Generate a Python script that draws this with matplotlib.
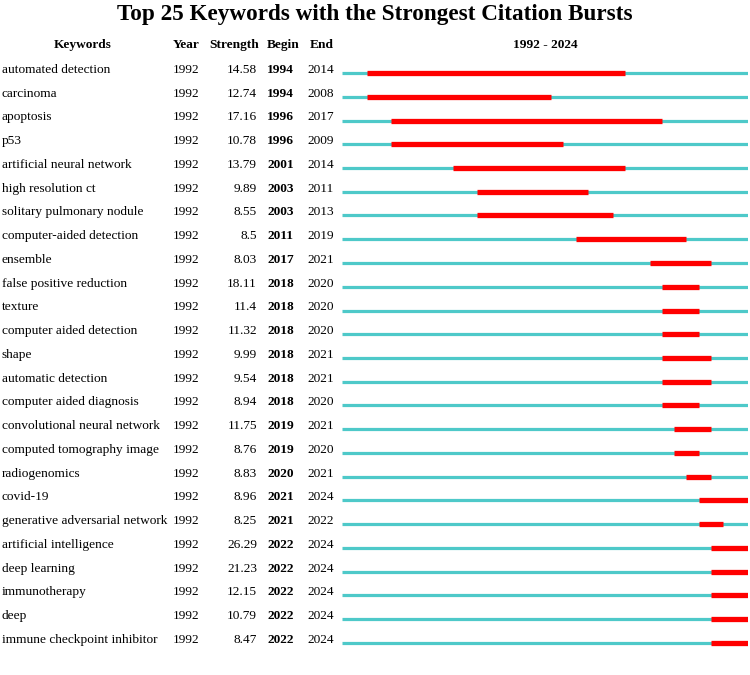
import matplotlib
matplotlib.use('Agg')
import matplotlib.pyplot as plt

plt.rcParams['font.family'] = ['Liberation Serif', 'DejaVu Serif']

# data
keywords = ['automated detection', 'carcinoma', 'apoptosis', 'p53',
            'artificial neural network', 'high resolution ct',
            'solitary pulmonary nodule', 'computer-aided detection', 'ensemble',
            'false positive reduction', 'texture', 'computer aided detection',
            'shape', 'automatic detection', 'computer aided diagnosis',
            'convolutional neural network', 'computed tomography image',
            'radiogenomics', 'covid-19', 'generative adversarial network',
            'artificial intelligence', 'deep learning', 'immunotherapy', 'deep',
            'immune checkpoint inhibitor']
years = [1992] * 25
strength = ['14.58', '12.74', '17.16', '10.78', '13.79', '9.89', '8.55', '8.5',
            '8.03', '18.11', '11.4', '11.32', '9.99', '9.54', '8.94', '11.75',
            '8.76', '8.83', '8.96', '8.25', '26.29', '21.23', '12.15', '10.79',
            '8.47']
begin = [1994, 1994, 1996, 1996, 2001, 2003, 2003, 2011, 2017, 2018, 2018, 2018,
         2018, 2018, 2018, 2019, 2019, 2020, 2021, 2021, 2022, 2022, 2022, 2022,
         2022]
end = [2014, 2008, 2017, 2009, 2014, 2011, 2013, 2019, 2021, 2020, 2020, 2020,
       2021, 2021, 2020, 2021, 2020, 2021, 2024, 2022, 2024, 2024, 2024, 2024,
       2024]
first_year, last_year = 1992, 2024

fig = plt.figure(figsize=(7.5, 6.75), dpi=100)

# rows: row i line sits at pixel 73 + 23.75*i
top = -73 / 23.75
bottom = (675 - 73) / 23.75

# text axis (x in pixels)
ax = fig.add_axes([0, 0, 1, 1])
ax.set_xlim(0, 750)
ax.set_ylim(bottom, top)
ax.axis('off')

# timeline axis (x in years)
ax2 = fig.add_axes([342 / 750, 0, 406 / 750, 1])
ax2.set_xlim(first_year, last_year + 1)
ax2.set_ylim(bottom, top)
ax2.axis('off')

fs = 9.6
cyan = '#4EC9C9'
red = '#FF0000'

ax.text(375, -2.46, 'Top 25 Keywords with the Strongest Citation Bursts',
        ha='center', va='center', fontsize=16.7, fontweight='bold')

hy = -1.18
ax.text(83, hy, 'Keywords', ha='center', va='center', fontsize=fs, fontweight='bold')
ax.text(173, hy, 'Year', ha='left', va='center', fontsize=fs, fontweight='bold')
ax.text(259, hy, 'Strength', ha='right', va='center', fontsize=fs, fontweight='bold')
ax.text(267, hy, 'Begin', ha='left', va='center', fontsize=fs, fontweight='bold')
ax.text(310, hy, 'End', ha='left', va='center', fontsize=fs, fontweight='bold')
ax.text(545, hy, '%d - %d' % (first_year, last_year), ha='center', va='center',
        fontsize=fs, fontweight='bold')

for i, kw in enumerate(keywords):
    ty = i - 0.13
    ax.text(2, ty, kw, ha='left', va='center', fontsize=fs)
    ax.text(173, ty, str(years[i]), ha='left', va='center', fontsize=fs)
    ax.text(257, ty, strength[i], ha='right', va='center', fontsize=fs)
    ax.text(267, ty, str(begin[i]), ha='left', va='center', fontsize=fs, fontweight='bold')
    ax.text(307, ty, str(end[i]), ha='left', va='center', fontsize=fs)

    # full period line, then burst segment
    ax2.hlines(i, first_year, last_year + 1, color=cyan, linewidth=2.3)
    ax2.hlines(i, begin[i], end[i] + 1, color=red, linewidth=3.8)

plt.savefig('out.png', dpi=100)
